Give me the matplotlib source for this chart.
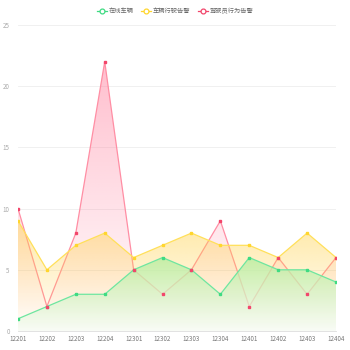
import numpy as np
import matplotlib
matplotlib.use("Agg")
import matplotlib.pyplot as plt
from matplotlib.colors import to_rgb
from matplotlib.lines import Line2D

plt.rcParams['font.family'] = ['Noto Sans CJK SC', 'DejaVu Sans']

periods = ["12201", "12202", "12203", "12204", "12301", "12302",
           "12303", "12304", "12401", "12402", "12403", "12404"]
online_vehicles = [1, 2, 3, 3, 5, 6, 5, 3, 6, 5, 5, 4]
vehicle_alarms = [9, 5, 7, 8, 6, 7, 8, 7, 7, 6, 8, 6]
driver_alarms = [10, 2, 8, 22, 5, 3, 5, 9, 2, 6, 3, 6]

series_names = ["在线车辆", "车辆行驶告警", "驾驶员行为告警"]
series_values = [online_vehicles, vehicle_alarms, driver_alarms]
line_colors = ["#6EE6A0", "#FFE05A", "#FF8EA4"]
marker_colors = ["#3FDB82", "#FFD62E", "#F2466B"]
# gradient stops per area: (top colour, top alpha, bottom colour, bottom alpha)
fill_stops = [("#B0EE9A", 0.72, "#F7FBF3", 0.72),
              ("#FFD24A", 0.5, "#FFD24A", 0.0),
              ("#FF7E9C", 0.5, "#FF7E9C", 0.0)]
layer = [3, 2, 1]   # green area sits above yellow, yellow above red
y_ticks = [0, 5, 10, 15, 20, 25]

fig = plt.figure(figsize=(3.5, 3.5), dpi=100)
ax = fig.add_axes([18 / 350, 1 - 331 / 350, 318 / 350, 306 / 350])

x = np.arange(len(periods))

for vals, lc, mc, stops, z in zip(series_values, line_colors, marker_colors,
                                  fill_stops, layer):
    vals = np.asarray(vals, dtype=float)
    top = vals.max()
    poly = ax.fill_between(x, 0, vals, color="none", lw=0)
    c0, a0, c1, a1 = stops
    t = np.linspace(0.0, 1.0, 256)[:, None]
    rgb = (1 - t) * np.array(to_rgb(c0)) + t * np.array(to_rgb(c1))
    alpha = (1 - t) * a0 + t * a1
    grad = np.concatenate([rgb, alpha], axis=1)[:, None, :].repeat(2, axis=1)
    im = ax.imshow(grad, extent=[x[0], x[-1], 0, top], origin="upper",
                   aspect="auto", zorder=2 * z, interpolation="bilinear")
    im.set_clip_path(poly.get_paths()[0], transform=ax.transData)
    ax.plot(x, vals, color=lc, lw=0.9, zorder=2 * z + 1)
    ax.plot(x, vals, ls="none", marker="s", ms=1.8, color=mc, mec=mc, zorder=10)

ax.set_xlim(x[0], x[-1])
ax.set_ylim(0, 25)
ax.set_xticks(x)
ax.set_xticklabels(periods)
ax.set_yticks(y_ticks)
ax.tick_params(axis="both", length=0, labelsize=4.5, colors="#777777", pad=3)
ax.tick_params(axis="y", pad=6)
for lbl in ax.get_yticklabels():
    lbl.set_color("#aaaaaa")
ax.grid(axis="y", color="#eeeeee", lw=0.6)
ax.set_axisbelow(True)
for side in ["top", "right", "left"]:
    ax.spines[side].set_visible(False)
ax.spines["bottom"].set_color("#dddddd")
ax.spines["bottom"].set_linewidth(0.6)

handles = [Line2D([0], [0], color=mc, lw=0.9, marker="o", ms=3.5,
                  mfc="white", mec=mc, mew=0.9) for mc in marker_colors]
fig.legend(handles, series_names, loc="upper center", bbox_to_anchor=(0.5, 0.995),
           ncol=3, frameon=False, fontsize=4.5, handlelength=1.6,
           columnspacing=1.2, handletextpad=0.3, labelcolor="#666666")

fig.savefig("out.png", dpi=100)
